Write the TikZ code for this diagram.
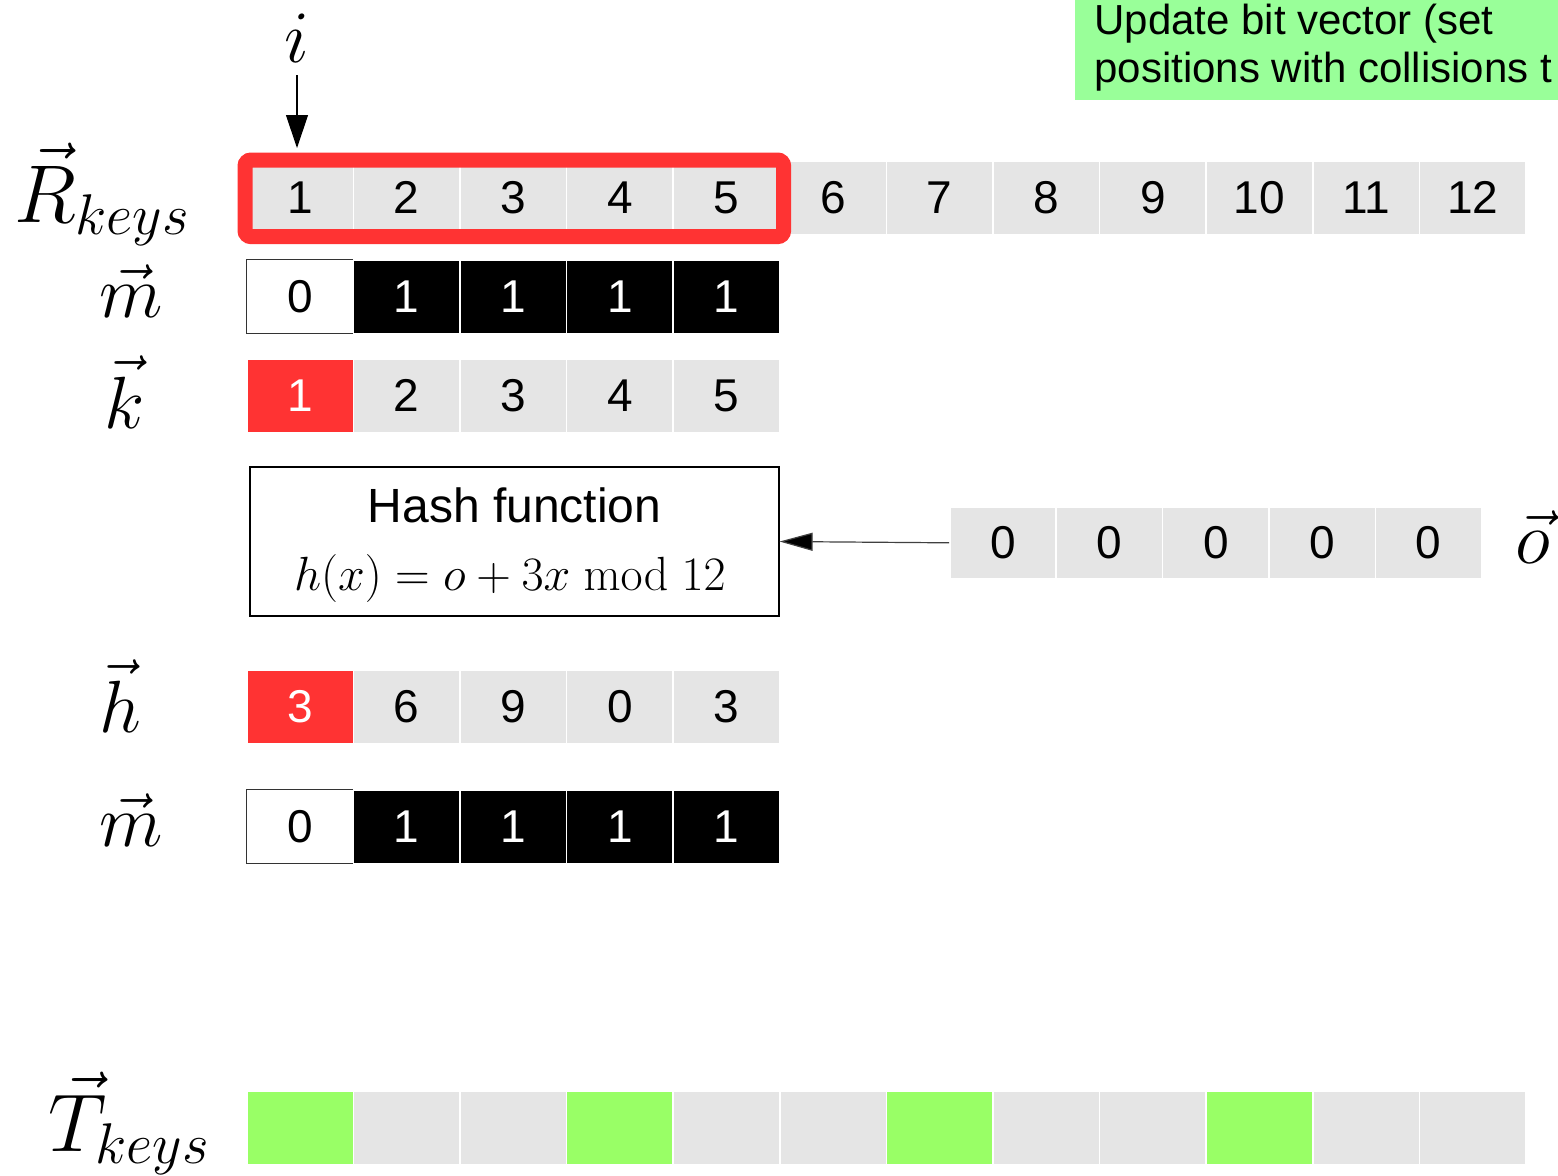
\documentclass[tikz,border=0pt]{standalone}
\usepackage{fix-cm}
\usepackage[no-math]{fontspec}
\newfontfamily\arialf{Liberation Sans}
\usetikzlibrary{arrows.meta}
\definecolor{cellgray}{HTML}{E5E5E5}
\definecolor{hired}{HTML}{FF3333}
\definecolor{hitgreen}{HTML}{99FF66}
\definecolor{notegreen}{HTML}{99FF99}
\definecolor{edgegray}{HTML}{333333}
\tikzset{
  cell/.style={draw=white, line width=0.8pt, fill=cellgray, minimum width=53.3pt,
    minimum height=37pt, inner sep=0pt, anchor=north west,
    font=\arialf\fontsize{23}{23}\selectfont},
  blackcell/.style={cell, fill=black, text=white},
  zerocell/.style={cell, fill=white, draw=edgegray, line width=0.6pt},
  redcell/.style={cell, fill=hired, text=white},
  greencell/.style={cell, fill=hitgreen},
  veclabel/.style={inner sep=0pt, anchor=base, font=\fontsize{37}{40}\selectfont},
  biglabel/.style={veclabel, font=\fontsize{41}{44}\selectfont},
  tipped/.style={line width=0.6pt, -{Triangle[length=16.5pt,width=11pt]}},
}
\begin{document}
\begin{tikzpicture}[x=0.5pt,y=-0.5pt]
\useasboundingbox (0,0) rectangle (1558,1175);

% note box (clipped at the picture edge)
\fill[notegreen] (1075,0) rectangle (1558,100);
\begin{scope}
  \clip (1075,0) rectangle (1558,100);
  \node[anchor=north west, inner sep=0pt, align=left,
        font=\arialf\fontsize{21}{24}\selectfont] (note) at (1094,4)
        {Update bit vector (set\\positions with collisions t};
\end{scope}

% R_keys row
\foreach \v [count=\n] in {1,...,12}
  \node[cell] (r\n) at ({246+(\n-1)*106.6},160) {\v};
\draw[hired, line width=7.5pt, rounded corners=3pt]
  ([xshift=-0.5pt]r1.north west) rectangle ([xshift=1.5pt,yshift=-0.5pt]r5.south east);

% i and its arrow
\node[veclabel] (i) at (297,62) {$i$};
\draw[tipped, shorten <=6.5pt, shorten >=6pt] (i.south) -- (i.south |- r1.north);

% first m row
\node[zerocell] (ma1) at (246,259) {0};
\foreach \n in {2,...,5}
  \node[blackcell] (ma\n) at ({246+(\n-1)*106.6},259) {1};

% k row
\node[redcell] (k1) at (246,358) {1};
\foreach \n in {2,...,5}
  \node[cell] (k\n) at ({246+(\n-1)*106.6},358) {\n};

% hash function box
\node[draw=black, line width=0.6pt, minimum width=264.5pt, minimum height=74.5pt,
      inner sep=0pt] (hash) at (514.5,541.5) {};
\node[inner sep=0pt, font=\arialf\fontsize{24}{24}\selectfont] (hashtitle)
  at (514.5,505) {Hash function};
\node[inner sep=0pt, font=\fontsize{24}{28}\selectfont] (hashformula)
  at (510,578) {$h(x) = o + 3x \bmod 12$};

% o vector
\foreach \n in {1,...,5}
  \node[cell, minimum width=53.2pt, minimum height=36pt] (o\n) at ({949+(\n-1)*106.4},506) {0};
\draw[line width=0.6pt, draw=black!75, -{Triangle[length=16.5pt,width=9pt,fill=black]}]
  (o1.west) -- (hash.east);

% h row
\node[redcell] (h1) at (246,669) {3};
\foreach \v [count=\n from 2] in {6,9,0,3}
  \node[cell] (h\n) at ({246+(\n-1)*106.6},669) {\v};

% second m row
\node[zerocell] (mb1) at (246,789) {0};
\foreach \n in {2,...,5}
  \node[blackcell] (mb\n) at ({246+(\n-1)*106.6},789) {1};

% T_keys row
\foreach \n in {1,...,12}{
  \pgfmathparse{(\n==1||\n==4||\n==7||\n==10)?"greencell":"cell"}
  \edef\tst{\pgfmathresult}
  \node[\tst] (t\n) at ({246+(\n-1)*106.6},1090) {};
}

% vector labels
\node[biglabel] (lR) at (102,222) {$\vec{R}_{keys}$};
\node[veclabel] (lma) at (131,317) {$\vec{m}$};
\node[veclabel] (lk) at (125,428) {$\vec{k}$};
\node[veclabel] (lh) at (120,732) {$\vec{h}$};
\node[veclabel] (lmb) at (131,846) {$\vec{m}$};
\node[biglabel] (lT) at (129,1151) {$\vec{T}_{keys}$};
\node[veclabel] (lo) at (1533,563) {$\vec{o}$};
\end{tikzpicture}
\end{document}
